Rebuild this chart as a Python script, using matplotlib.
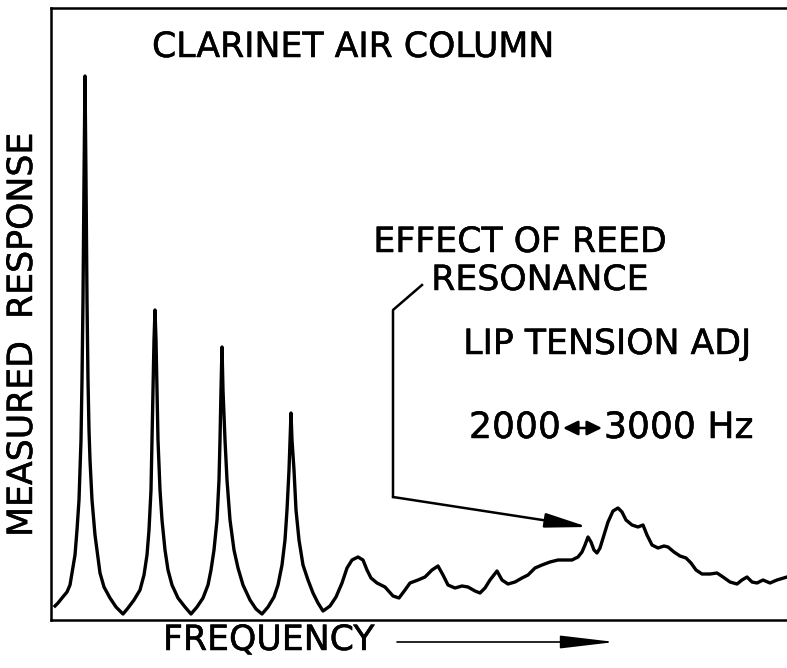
# Clarinet air column - measured response vs frequency
import numpy as np
import matplotlib
matplotlib.use("Agg")
import matplotlib.pyplot as plt
import matplotlib.patheffects as pe

plt.rcParams['font.family'] = ['DejaVu Sans']

# Curve (arbitrary units: frequency left->right, response up)
freq = [4, 7, 11, 16, 19, 21, 24, 26, 28, 30, 31, 32, 33, 34, 35, 36, 37, 38, 39, 41,
        44, 47, 49, 53, 59, 65, 72, 77, 83, 89, 93, 96, 98, 100, 101, 102, 103, 104,
        105, 106, 107, 109, 111, 114, 117, 121, 127, 134, 140, 146, 152, 157, 160, 163,
        166, 168, 169, 170, 171, 172, 174, 176, 179, 183, 187, 192, 199, 205, 211, 217,
        223, 227, 231, 234, 236, 238, 239, 240, 241, 243, 245, 248, 252, 257, 262, 267,
        272, 279, 285, 291, 296, 301, 307, 312, 316, 320, 326, 334, 342, 348, 354, 359,
        367, 374, 381, 387, 392, 397, 404, 411, 417, 424, 429, 434, 439, 446, 451, 457,
        464, 471, 477, 484, 491, 499, 507, 514, 521, 527, 531, 534, 537, 540, 543, 546,
        549, 553, 557, 562, 567, 571, 575, 581, 587, 592, 596, 601, 607, 613, 617, 623,
        629, 635, 640, 645, 651, 659, 666, 672, 679, 686, 691, 696, 701, 706, 712, 719,
        726, 736]
response = [14, 17, 22, 28, 35, 47, 65, 90, 120, 180, 240, 320, 440, 544, 440, 320, 240,
            190, 160, 120, 85, 62, 47, 33, 22, 13, 6, 12, 20, 30, 45, 65, 90, 130, 180,
            230, 280, 310, 280, 230, 180, 130, 100, 70, 50, 35, 22, 13, 6, 13, 22, 35, 50,
            70, 100, 140, 180, 230, 273, 230, 180, 140, 100, 70, 52, 35, 20, 11, 6, 13,
            23, 35, 55, 80, 110, 150, 180, 207, 180, 150, 110, 80, 55, 40, 27, 17, 9, 14,
            23, 37, 52, 60, 63, 60, 50, 42, 37, 33, 24, 22, 30, 37, 40, 43, 50, 54, 45,
            35, 32, 34, 33, 29, 27, 32, 40, 49, 40, 36, 38, 42, 45, 52, 55, 58, 60, 60,
            60, 63, 68, 75, 83, 78, 70, 67, 72, 85, 98, 109, 112, 108, 100, 95, 93, 95,
            85, 75, 72, 74, 73, 68, 64, 62, 57, 50, 46, 46, 47, 43, 38, 36, 40, 43, 38,
            37, 40, 37, 40, 43]

# leader line for the reed resonance note
leader_x = [371, 342, 342]
leader_y = [335, 310, 123]
leader_tip = (537, 93)

W, H = 787, 668
fig = plt.figure(figsize=(W / 100, H / 100), dpi=100)
ax = fig.add_axes([51 / W, 48 / H, (W - 51) / W, 612 / H])

ax.plot(freq, response, color='black', lw=2.4, solid_joinstyle='round')
ax.set_xlim(0, 736)
ax.set_ylim(0, 612)
ax.set_xticks([])
ax.set_yticks([])
ax.spines['right'].set_visible(False)
for s in ['left', 'bottom', 'top']:
    ax.spines[s].set_linewidth(1.8)

# leader + arrow
ax.plot(leader_x, leader_y, color='black', lw=1.8)
ax.annotate('', xy=leader_tip, xytext=(leader_x[-1], leader_y[-1]),
            arrowprops=dict(arrowstyle='-|>,head_length=1.3,head_width=0.22',
                            mutation_scale=20, color='black', lw=1.8,
                            shrinkA=0, shrinkB=0))


def fx(px):
    return px / W


def fy(py):
    return 1 - py / H


fs = 25
thick = [pe.withStroke(linewidth=0.35, foreground='black')]
fig.text(fx(353), fy(47), 'CLARINET AIR COLUMN', fontsize=fs, ha='center', va='center',
         path_effects=thick)
fig.text(fx(520), fy(242), 'EFFECT OF REED', fontsize=fs, ha='center', va='center',
         path_effects=thick)
fig.text(fx(540), fy(280), 'RESONANCE', fontsize=fs, ha='center', va='center',
         path_effects=thick)
fig.text(fx(607), fy(344), 'LIP TENSION ADJ', fontsize=fs, ha='center', va='center',
         path_effects=thick)
fig.text(fx(561), fy(428), '2000', fontsize=fs + 1, ha='right', va='center',
         path_effects=thick)
fig.text(fx(604), fy(428), '3000 Hz', fontsize=fs + 1, ha='left', va='center',
         path_effects=thick)
fig.add_artist(matplotlib.patches.FancyArrowPatch(
    (fx(563), fy(428)), (fx(602), fy(428)), transform=fig.transFigure,
    arrowstyle='<|-|>,head_length=0.45,head_width=0.22', mutation_scale=20,
    color='black', lw=1.8, shrinkA=0, shrinkB=0))

fig.text(fx(22), fy(335), 'MEASURED  RESPONSE', fontsize=fs, rotation=90,
         ha='center', va='center', path_effects=thick)
fig.text(fx(163), fy(640), 'FREQUENCY', fontsize=fs, ha='left', va='center',
         path_effects=thick)
fig.add_artist(matplotlib.patches.FancyArrowPatch(
    (fx(397), fy(642)), (fx(615), fy(642)), transform=fig.transFigure,
    arrowstyle='-|>,head_length=1.7,head_width=0.2', mutation_scale=20,
    color='black', lw=1.2, shrinkA=0, shrinkB=0))

fig.savefig('out.png', dpi=100)
